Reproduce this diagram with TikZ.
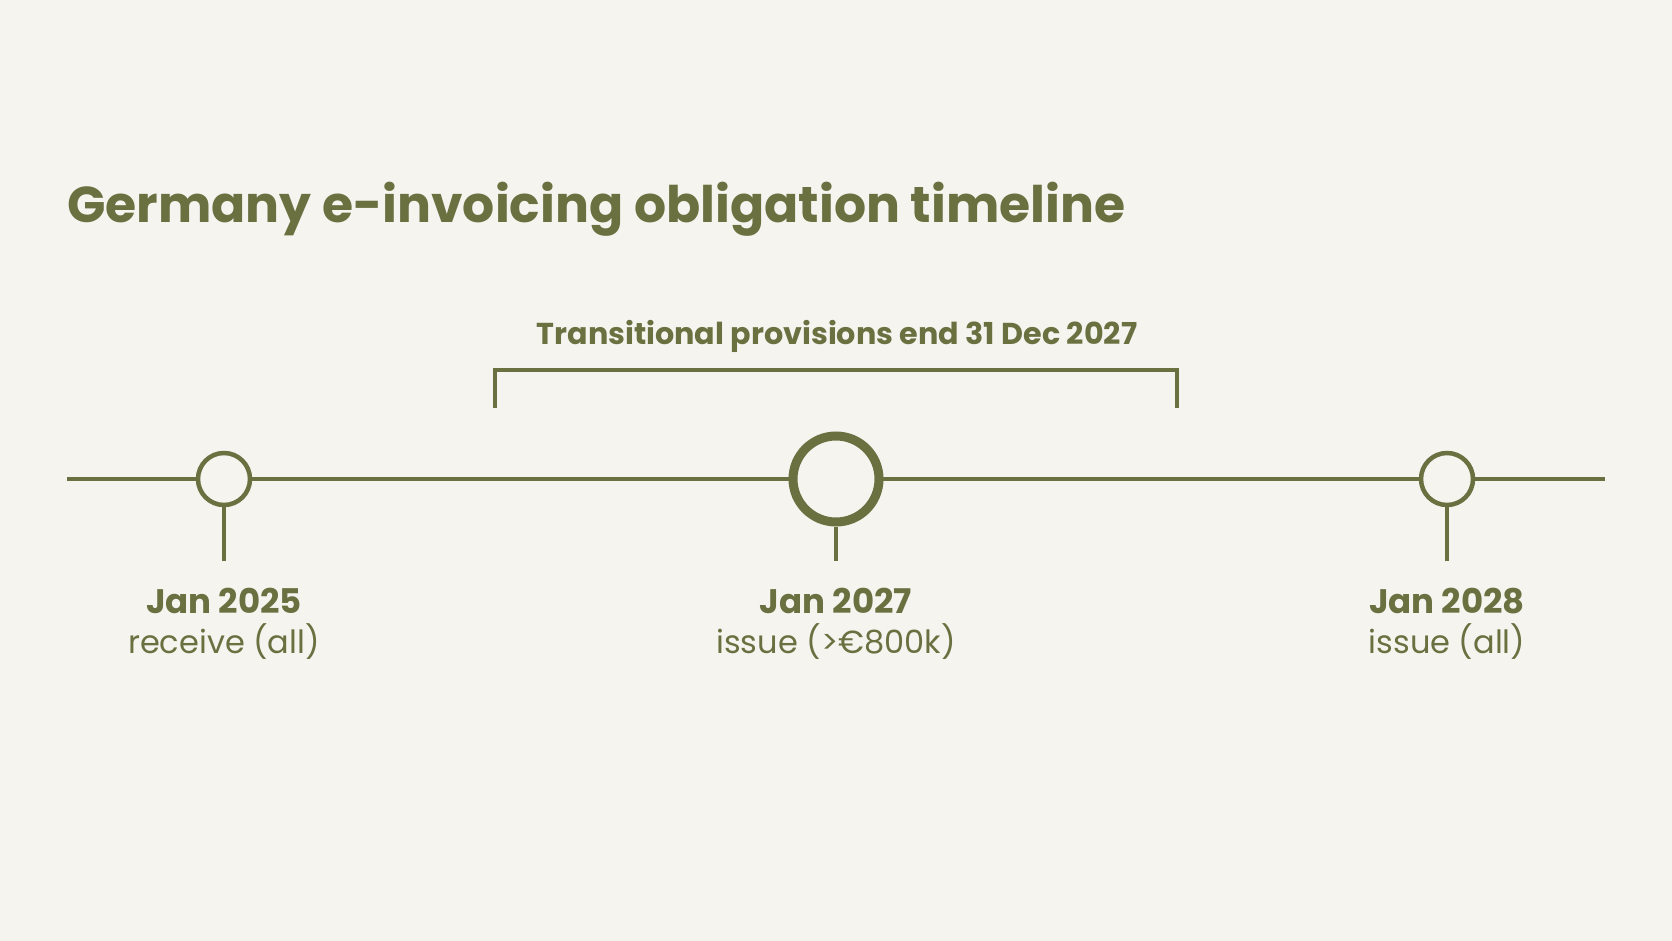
\documentclass[tikz,border=0pt]{standalone}
\usepackage{fontspec}
\setmainfont{Poppins}
\definecolor{olive}{HTML}{6A7040}
\definecolor{bg}{HTML}{F5F4EF}
\begin{document}
\begin{tikzpicture}[x=1pt,y=-1pt,
  tl/.style={line width=4.5pt,draw=olive},
  dot/.style={circle,draw=olive,fill=bg,line width=4.5pt,minimum size=52pt,inner sep=0pt},
  bigdot/.style={circle,draw=olive,fill=bg,line width=9pt,minimum size=86pt,inner sep=0pt},
  datelbl/.style={anchor=base,text=olive,font=\fontsize{34}{40}\selectfont\bfseries,inner sep=0pt},
  sublbl/.style={anchor=base,text=olive,font=\fontsize{32}{36}\selectfont,inner sep=0pt}]
\useasboundingbox (0,0) rectangle (1672,941);
\fill[bg] (0,0) rectangle (1672,941);
% title
\node[anchor=base west,inner sep=0pt,text=olive,font=\fontsize{50.4}{58}\selectfont\bfseries] (title) at (67,223) {Germany e-invoicing obligation timeline};
% timeline
\coordinate (L) at (67,479);
\coordinate (R) at (1605,479);
\draw[tl] (L) -- (R);
% milestones
\node[dot] (m1) at (224,479) {};
\node[bigdot] (m2) at (836,479) {};
\node[dot] (m3) at (1447,479) {};
\coordinate (s1) at (224,561);
\coordinate (s2) at (836,561);
\coordinate (s3) at (1447,561);
\draw[tl] (m1.south) -- (s1);
\draw[tl] (m2.south) -- (s2);
\draw[tl] (m3.south) -- (s3);
\node[datelbl] (d1) at (224,613) {Jan 2025};
\node[datelbl] (d2) at (836,613) {Jan 2027};
\node[datelbl] (d3) at (1447,613) {Jan 2028};
\node[sublbl] (t1) at (224,653) {receive (all)};
\node[sublbl] (t2) at (836,653) {issue (>€800k)};
\node[sublbl] (t3) at (1447,653) {issue (all)};
% bracket
\coordinate (b1) at (495,408);
\coordinate (b2) at (495,370);
\coordinate (b3) at (1177,370);
\coordinate (b4) at (1177,408);
\draw[line width=4pt,draw=olive] (b1) -- (b2) -- (b3) -- (b4);
\node[anchor=base,inner sep=0pt,text=olive,font=\fontsize{30.2}{36}\selectfont\bfseries] (br) at (837,344) {Transitional provisions end 31 Dec 2027};
\end{tikzpicture}
\end{document}
